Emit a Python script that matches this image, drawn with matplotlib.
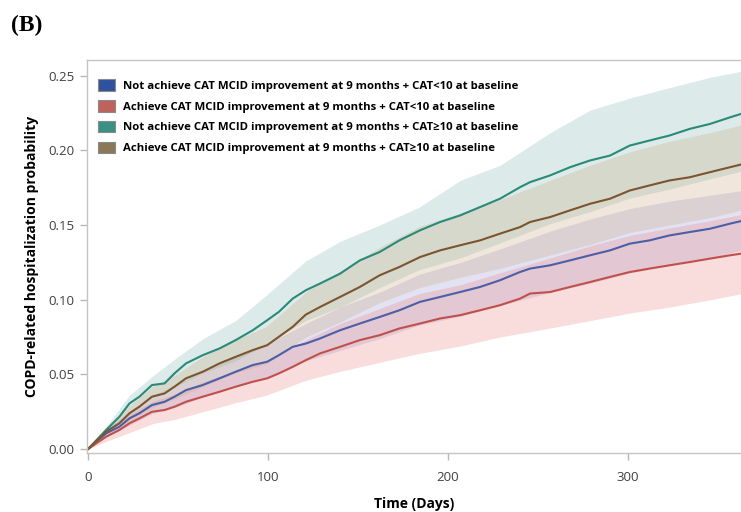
import matplotlib
matplotlib.use('Agg')
import matplotlib.pyplot as plt
from matplotlib.patches import Patch

# ---- data ----
days = [0, 10, 17.4, 23, 28.5, 35.5, 42.5, 48, 54.4, 63.7,
        73, 82, 91.5, 99.5, 106, 113.7, 121, 128.9, 140, 151,
        162, 173, 184.4, 195.6, 206.7, 217.8, 228.9, 240, 245.6, 256.7,
        267.8, 278.9, 290, 301, 312, 323, 334.4, 345.6, 356.7, 362.8]

not_lt10 = [0, 0.0105, 0.0149, 0.0205, 0.0239, 0.0294, 0.0316, 0.0350, 0.0394, 0.0428,
            0.0473, 0.0517, 0.0562, 0.0584, 0.0628, 0.0684, 0.0706, 0.0740, 0.0795, 0.0840,
            0.0884, 0.0929, 0.0985, 0.1018, 0.1051, 0.1085, 0.1130, 0.1185, 0.1208, 0.1230,
            0.1263, 0.1297, 0.1330, 0.1375, 0.1397, 0.1430, 0.1453, 0.1475, 0.1509, 0.1526]
ach_lt10 = [0, 0.0082, 0.0127, 0.0172, 0.0205, 0.0249, 0.0261, 0.0283, 0.0316, 0.0350,
            0.0383, 0.0417, 0.0450, 0.0473, 0.0506, 0.0550, 0.0595, 0.0640, 0.0684, 0.0729,
            0.0762, 0.0807, 0.0840, 0.0874, 0.0896, 0.0929, 0.0963, 0.1007, 0.1041, 0.1051,
            0.1085, 0.1118, 0.1152, 0.1185, 0.1208, 0.1230, 0.1252, 0.1275, 0.1297, 0.1308]
not_ge10 = [0, 0.0127, 0.0216, 0.0305, 0.0350, 0.0428, 0.0439, 0.0506, 0.0573, 0.0628,
            0.0673, 0.0729, 0.0795, 0.0862, 0.0918, 0.1007, 0.1063, 0.1108, 0.1174, 0.1263,
            0.1319, 0.1397, 0.1464, 0.1520, 0.1564, 0.1620, 0.1676, 0.1753, 0.1787, 0.1832,
            0.1887, 0.1932, 0.1965, 0.2032, 0.2066, 0.2099, 0.2144, 0.2177, 0.2221, 0.2244]
ach_ge10 = [0, 0.0116, 0.0172, 0.0239, 0.0283, 0.0350, 0.0372, 0.0417, 0.0473, 0.0517,
            0.0573, 0.0617, 0.0662, 0.0695, 0.0751, 0.0818, 0.0900, 0.0951, 0.1018, 0.1085,
            0.1163, 0.1219, 0.1285, 0.1330, 0.1364, 0.1397, 0.1442, 0.1486, 0.1520, 0.1553,
            0.1598, 0.1642, 0.1676, 0.1731, 0.1765, 0.1798, 0.1820, 0.1854, 0.1887, 0.1905]

# confidence bands (coarser grid)
ci_days = [0, 10, 23, 36, 49, 64, 82, 99, 121, 140,
           162, 184, 207, 229, 257, 279, 301, 323, 346, 363]
not_lt10_lo = [0, 0.008, 0.016, 0.024, 0.028, 0.035, 0.042, 0.048, 0.059, 0.066,
               0.074, 0.083, 0.089, 0.096, 0.105, 0.111, 0.118, 0.123, 0.128, 0.133]
not_lt10_hi = [0, 0.013, 0.025, 0.036, 0.043, 0.052, 0.062, 0.070, 0.084, 0.095,
               0.105, 0.117, 0.125, 0.134, 0.146, 0.154, 0.161, 0.166, 0.170, 0.173]
ach_lt10_lo = [0, 0.005, 0.011, 0.017, 0.020, 0.025, 0.031, 0.036, 0.046, 0.052,
               0.058, 0.064, 0.069, 0.075, 0.081, 0.086, 0.091, 0.095, 0.100, 0.104]
ach_lt10_hi = [0, 0.011, 0.023, 0.032, 0.037, 0.045, 0.052, 0.059, 0.073, 0.084,
               0.094, 0.104, 0.110, 0.118, 0.128, 0.136, 0.143, 0.148, 0.153, 0.157]
not_ge10_lo = [0, 0.010, 0.025, 0.035, 0.042, 0.051, 0.059, 0.070, 0.086, 0.095,
               0.108, 0.120, 0.128, 0.138, 0.151, 0.159, 0.168, 0.174, 0.181, 0.186]
not_ge10_hi = [0, 0.015, 0.036, 0.049, 0.061, 0.074, 0.086, 0.103, 0.126, 0.139,
               0.150, 0.162, 0.180, 0.190, 0.212, 0.227, 0.235, 0.242, 0.249, 0.253]
ach_ge10_lo = [0, 0.009, 0.019, 0.028, 0.034, 0.042, 0.051, 0.057, 0.075, 0.085,
               0.098, 0.108, 0.115, 0.121, 0.130, 0.137, 0.145, 0.150, 0.155, 0.160]
ach_ge10_hi = [0, 0.014, 0.029, 0.042, 0.050, 0.062, 0.073, 0.082, 0.105, 0.119,
               0.135, 0.149, 0.158, 0.167, 0.180, 0.190, 0.199, 0.206, 0.212, 0.217]

labels = ['Not achieve CAT MCID improvement at 9 months + CAT<10 at baseline',
          'Achieve CAT MCID improvement at 9 months + CAT<10 at baseline',
          'Not achieve CAT MCID improvement at 9 months + CAT\u226510 at baseline',
          'Achieve CAT MCID improvement at 9 months + CAT\u226510 at baseline']
line_colors = ['#4b5ea8', '#c0504d', '#2a8a78', '#7a5530']
patch_colors = ['#2f52a0', '#c0625c', '#3a9085', '#8a7858']
band_colors = ['#8f8fd0', '#e87a7a', '#7ab4ac', '#c9a27a']

series = [(not_lt10, not_lt10_lo, not_lt10_hi),
          (ach_lt10, ach_lt10_lo, ach_lt10_hi),
          (not_ge10, not_ge10_lo, not_ge10_hi),
          (ach_ge10, ach_ge10_lo, ach_ge10_hi)]

plt.rcParams['font.family'] = ['Open Sans', 'DejaVu Sans']

fig = plt.figure(figsize=(7.41, 5.12), dpi=100)
ax = fig.add_axes([87 / 741, 1 - 453 / 512, 1 - 87 / 741, (453 - 60) / 512])

for (vals, lo, hi), bc in zip(series, band_colors):
    ax.fill_between(ci_days, lo, hi, color=bc, alpha=0.26, linewidth=0)
for (vals, lo, hi), lc in zip(series, line_colors):
    ax.plot(days, vals, color=lc, linewidth=1.5)

ax.set_xlim(-0.6, 362.8)
ax.set_ylim(-0.0027, 0.2605)
ax.set_xticks([0, 100, 200, 300])
ax.set_yticks([0, 0.05, 0.10, 0.15, 0.20, 0.25])
ax.set_yticklabels(['0.00', '0.05', '0.10', '0.15', '0.20', '0.25'])
ax.tick_params(direction='out', length=5, width=1, color='#b8b8b8',
               labelsize=9.5, labelcolor='#404040')
ax.tick_params(axis='x', pad=8)
ax.tick_params(axis='y', pad=4)
for s in ['left', 'bottom', 'top']:
    ax.spines[s].set_color('#c4c4c4')
    ax.spines[s].set_linewidth(1)
ax.spines['right'].set_visible(False)

ax.set_xlabel('Time (Days)', fontsize=10, fontweight='bold', labelpad=9)
ax.set_ylabel('COPD-related hospitalization probability', fontsize=10,
              fontweight='bold', labelpad=7)

handles = [Patch(facecolor=c, edgecolor='#8a8a8a', linewidth=0.8) for c in patch_colors]
ax.legend(handles, labels, loc='upper left', bbox_to_anchor=(98 / 741, 1 - 79.5 / 512),
          bbox_transform=fig.transFigure, frameon=False, borderpad=0, borderaxespad=0,
          handlelength=1.5, handleheight=1.15, handletextpad=0.72, labelspacing=0.72,
          prop={'size': 8.2, 'weight': 'bold'})

fig.text(11 / 741, 1 - 31 / 512, '(B)', fontsize=17, fontweight='bold',
         family='Liberation Serif')

fig.savefig('out.png', dpi=100)
